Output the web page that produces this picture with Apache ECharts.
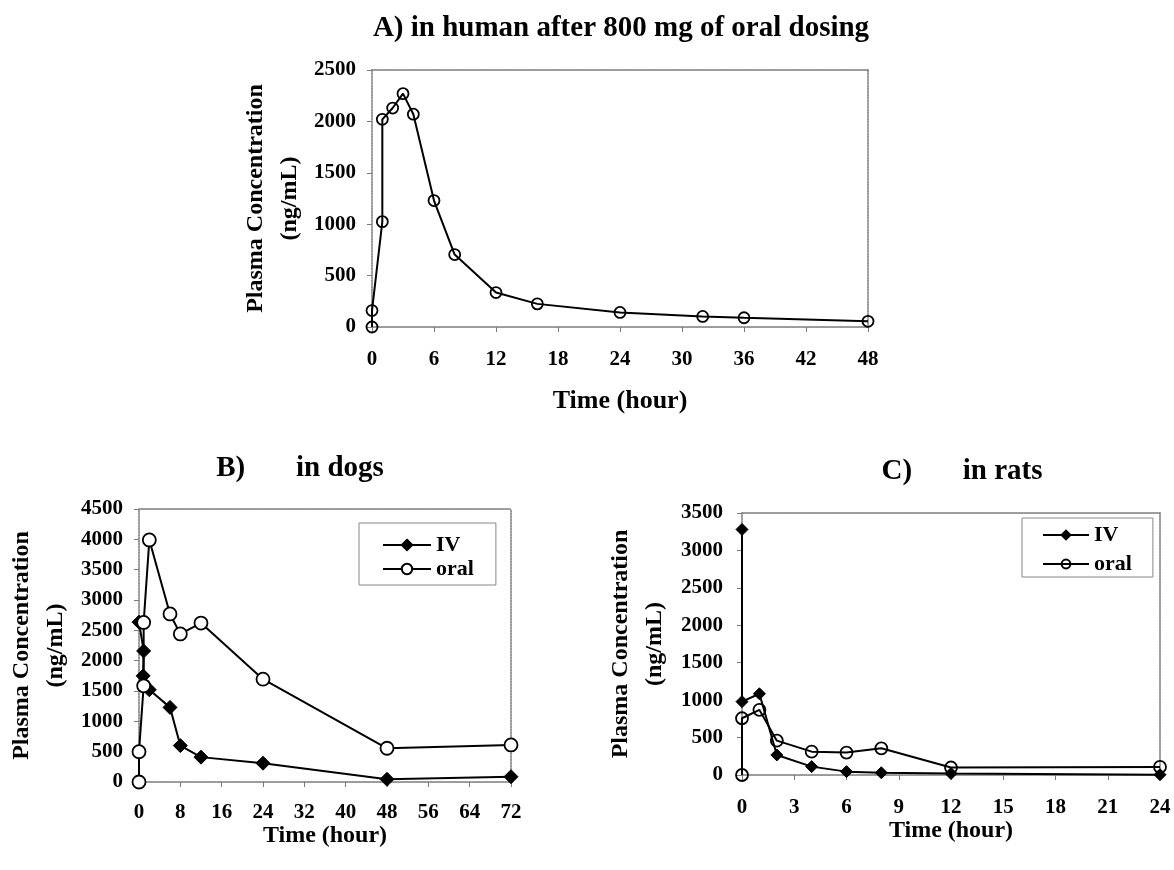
<!DOCTYPE html>
<html>
<head>
<meta charset="utf-8">
<script src="https://cdn.jsdelivr.net/npm/echarts@6/dist/echarts.min.js"></script>
<style>
html,body{margin:0;padding:0;background:#fff;}
#chart{width:1174px;height:870px;}
</style>
</head>
<body>
<div id="chart"></div>
<script>
// ---- data ----
const humanTime = [0, 0, 1, 1, 2, 3, 4, 6, 8, 12, 16, 24, 32, 36, 48];
const humanConc = [0, 160, 1025, 2020, 2130, 2270, 2070, 1230, 705, 335, 225, 142, 103, 90, 55];

const dogIVTime = [0, 0.9, 0.8, 2, 6, 8, 12, 24, 48, 72];
const dogIVConc = [2635, 2160, 1750, 1520, 1230, 600, 410, 310, 45, 87];
const dogOralTime = [0, 0, 0.9, 0.9, 2, 6, 8, 12, 24, 48, 72];
const dogOralConc = [0, 500, 1585, 2630, 3990, 2770, 2440, 2620, 1695, 556, 611];

const ratIVTime = [0, 0, 1, 2, 4, 6, 8, 12, 24];
const ratIVConc = [3280, 980, 1085, 268, 112, 45, 30, 20, 5];
const ratOralTime = [0, 0, 1, 2, 4, 6, 8, 12, 24];
const ratOralConc = [0, 758, 870, 459, 312, 300, 357, 100, 108];

const titles = ['A) in human after 800 mg of oral dosing', 'B)       in dogs', 'C)       in rats'];
const yName = 'Plasma Concentration\n(ng/mL)';
const xName = 'Time (hour)';

// ---- helpers ----
const FONT = 'Liberation Serif';
const pairs = (xs, ys) => xs.map((x, i) => [x, ys[i]]);
const AX = '#7a7a7a';
const plain = (v) => String(v);

function xMain(gi, max, step, margin, gap, nameSize) {
  return {
    type: 'value', gridIndex: gi, min: 0, max: max, interval: step,
    axisLine: {show: true, onZero: false, lineStyle: {color: AX, width: 1.5, type: [2, 1]}},
    axisTick: {show: true, length: 5, lineStyle: {color: AX}},
    splitLine: {show: false},
    axisLabel: {fontFamily: FONT, fontWeight: 'bold', fontSize: 21, color: '#000', margin: margin, formatter: plain},
    name: xName, nameLocation: 'middle', nameGap: gap,
    nameTextStyle: {fontFamily: FONT, fontWeight: 'bold', fontSize: nameSize, color: '#000'}
  };
}
function yMain(gi, max, step, margin, gap) {
  return {
    type: 'value', gridIndex: gi, min: 0, max: max, interval: step,
    axisLine: {show: true, onZero: false, lineStyle: {color: AX, width: 1.5, type: [2, 1]}},
    axisTick: {show: true, length: 5, lineStyle: {color: AX}},
    splitLine: {show: false},
    axisLabel: {fontFamily: FONT, fontWeight: 'bold', fontSize: 21, color: '#000', margin: margin, formatter: plain},
    name: yName, nameLocation: 'middle', nameRotate: 90, nameGap: gap,
    nameTextStyle: {fontFamily: FONT, fontWeight: 'bold', fontSize: 24, color: '#000', lineHeight: 34}
  };
}
function xBorder(gi, max) {
  return {type: 'value', gridIndex: gi, position: 'top', min: 0, max: max,
    axisLine: {show: true, onZero: false, lineStyle: {color: AX, width: 1.5, type: [2, 1]}},
    axisTick: {show: false}, axisLabel: {show: false}, splitLine: {show: false}};
}
function yBorder(gi, max) {
  return {type: 'value', gridIndex: gi, position: 'right', min: 0, max: max,
    axisLine: {show: true, onZero: false, lineStyle: {color: AX, width: 1.5, type: [2, 1]}},
    axisTick: {show: false}, axisLabel: {show: false}, splitLine: {show: false}};
}

const openCircle = {color: 'rgba(0,0,0,0)', borderColor: '#000', borderWidth: 1.8};
const whiteCircle = {color: '#fff', borderColor: '#000', borderWidth: 1.8};
const blackDiamond = {color: '#000', borderColor: '#000', borderWidth: 1};
const lineSt = {color: '#000', width: 2};

const titleStyle = {fontFamily: FONT, fontWeight: 'bold', fontSize: 29, color: '#000'};
const subTitleStyle = {fontFamily: FONT, fontWeight: 'bold', fontSize: 29, color: '#000'};

const option = {
  backgroundColor: '#fff',
  animation: false,
  title: [
    {text: titles[0], left: 621, top: 14, textAlign: 'center', padding: 0, textStyle: titleStyle},
    {text: titles[1], left: 300, top: 454, textAlign: 'center', padding: 0, textStyle: subTitleStyle},
    {text: titles[2], left: 962, top: 457, textAlign: 'center', padding: 0, textStyle: subTitleStyle}
  ],
  grid: [
    {left: 372, top: 70, width: 496, height: 257},
    {left: 139, top: 509, width: 372, height: 273},
    {left: 742, top: 513, width: 418, height: 262}
  ],
  xAxis: [
    xMain(0, 48, 6, 22, 61, 26),
    xMain(1, 72, 8, 20, 34, 24),
    xMain(2, 24, 3, 22, 42, 24),
    xBorder(0, 48), xBorder(1, 72), xBorder(2, 24)
  ],
  yAxis: [
    yMain(0, 2500, 500, 16, 65),
    yMain(1, 4500, 500, 16, 66),
    yMain(2, 3500, 500, 19, 70),
    yBorder(0, 2500), yBorder(1, 4500), yBorder(2, 3500)
  ],
  legend: [
    {
      data: ['IV', 'oral'], orient: 'vertical', left: 359, top: 523,
      padding: [11, 22, 5, 23], itemGap: 2, itemWidth: 48, itemHeight: 13,
      borderColor: '#888', borderWidth: 1,
      textStyle: {fontFamily: FONT, fontWeight: 'bold', fontSize: 22, color: '#000'}
    },
    {
      data: ['IV ', 'oral '], orient: 'vertical', left: 1022, top: 518,
      padding: [6, 21, 2, 20], itemGap: 7, itemWidth: 46, itemHeight: 11,
      borderColor: '#888', borderWidth: 1,
      formatter: (n) => n.trim(),
      textStyle: {fontFamily: FONT, fontWeight: 'bold', fontSize: 22, color: '#000'}
    }
  ],
  series: [
    {name: 'human', type: 'line', xAxisIndex: 0, yAxisIndex: 0, data: pairs(humanTime, humanConc),
      symbol: 'circle', symbolSize: 11, itemStyle: openCircle, lineStyle: lineSt},
    {name: 'IV', type: 'line', xAxisIndex: 1, yAxisIndex: 1, data: pairs(dogIVTime, dogIVConc),
      symbol: 'diamond', symbolSize: 14, itemStyle: blackDiamond, lineStyle: lineSt},
    {name: 'oral', type: 'line', xAxisIndex: 1, yAxisIndex: 1, data: pairs(dogOralTime, dogOralConc),
      symbol: 'circle', symbolSize: 13, itemStyle: whiteCircle, lineStyle: lineSt},
    {name: 'IV ', type: 'line', xAxisIndex: 2, yAxisIndex: 2, data: pairs(ratIVTime, ratIVConc),
      symbol: 'diamond', symbolSize: 12, itemStyle: blackDiamond, lineStyle: lineSt},
    {name: 'oral ', type: 'line', xAxisIndex: 2, yAxisIndex: 2, data: pairs(ratOralTime, ratOralConc),
      symbol: 'circle', symbolSize: 12, itemStyle: openCircle, lineStyle: lineSt}
  ]
};

const chart = echarts.init(document.getElementById('chart'), null, {renderer: 'canvas'});
chart.setOption(option);
</script>
</body>
</html>
